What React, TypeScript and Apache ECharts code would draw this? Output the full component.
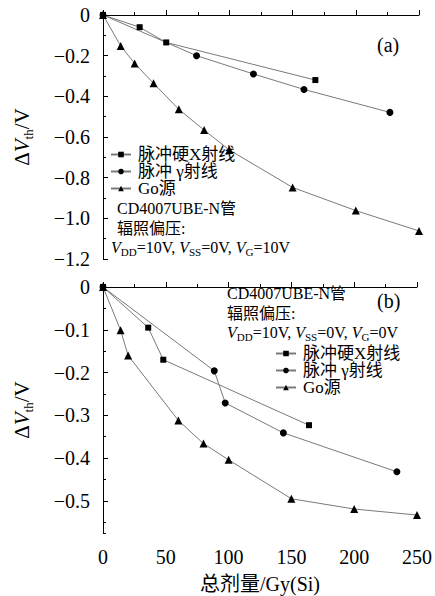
import React, { useEffect, useRef } from 'react';
import * as echarts from 'echarts';

const FONT = 'Liberation Serif, Noto Sans CJK SC, serif';

// ---- data (a): bias VG = 10V ----
const aXrayDose = [0, 29, 50, 168];
const aXrayDv = [0, -0.06, -0.135, -0.32];
const aGammaDose = [0, 74, 119, 159, 227];
const aGammaDv = [0, -0.2, -0.29, -0.366, -0.479];
const aCoDose = [0, 14, 25, 40, 60, 80, 100, 150, 200, 250];
const aCoDv = [0, -0.152, -0.238, -0.336, -0.464, -0.566, -0.664, -0.848, -0.962, -1.062];

// ---- data (b): bias VG = 0V ----
const bXrayDose = [0, 36, 48, 164];
const bXrayDv = [0, -0.095, -0.17, -0.323];
const bGammaDose = [0, 88.6, 97.3, 143.6, 234];
const bGammaDv = [0, -0.196, -0.271, -0.341, -0.432];
const bCoDose = [0, 14, 20, 60, 80, 100, 150, 200, 250];
const bCoDv = [0, -0.101, -0.16, -0.312, -0.366, -0.404, -0.495, -0.519, -0.533];

const seriesNames = ['脉冲硬X射线', '脉冲 γ射线', 'Go源'];
const doseRange = [0, 250];
const aDvRange = [-1.2, 0];
const bDvDepth = 0.575;

const LINE = '#7a7a7a';

function fmtNeg(v: number) {
  const r = Math.round(v * 10);
  if (Math.abs(v * 10 - r) > 1e-6) return '';
  if (r === 0) return '0';
  return '−' + Math.abs(r / 10).toFixed(1);
}

function mk(name: string, dose: number[], dv: number[], symbol: string, size: number, xi: number, yi: number, neg: boolean) {
  return {
    type: 'line',
    name,
    xAxisIndex: xi,
    yAxisIndex: yi,
    data: dose.map((d, i) => [d, neg ? -dv[i] : dv[i]]),
    symbol,
    symbolSize: size,
    showSymbol: true,
    lineStyle: { color: LINE, width: 1 },
    itemStyle: { color: '#000' },
    emphasis: { disabled: true },
  };
}

const yNameText = '{d|Δ}{v|V}{s|th}{d|/V}';
const yNameStyle = {
  fontFamily: FONT,
  fontSize: 21,
  color: '#000',
  rich: {
    d: { fontFamily: FONT, fontSize: 21, lineHeight: 26, color: '#000' },
    v: { fontFamily: FONT, fontSize: 21, lineHeight: 26, fontStyle: 'italic', color: '#000' },
    s: { fontFamily: FONT, fontSize: 13, lineHeight: 13, verticalAlign: 'bottom', color: '#000' },
  },
};

const annRich = {
  n: { fontFamily: FONT, fontSize: 16, lineHeight: 20, fill: '#000' },
  i: { fontFamily: FONT, fontSize: 16, lineHeight: 20, fontStyle: 'italic', fill: '#000' },
  s: { fontFamily: FONT, fontSize: 11, lineHeight: 11, verticalAlign: 'bottom', fill: '#000' },
};

function annText(x: number, y: number, text: string, rich = false) {
  return {
    type: 'text',
    x,
    y,
    style: rich
      ? { text, rich: annRich, font: `16px ${FONT}`, verticalAlign: 'middle', align: 'left', fill: '#000' }
      : { text, font: `16px ${FONT}`, verticalAlign: 'middle', align: 'left', fill: '#000' },
  };
}

const axisCommon = {
  axisLine: { lineStyle: { color: '#000', width: 1 } },
  splitLine: { show: false },
};

const labelStyle = { fontFamily: FONT, fontSize: 20, color: '#000', margin: 13 };

export default function App() {
  const ref = useRef<HTMLDivElement>(null);
  useEffect(() => {
    const chart = echarts.init(ref.current!, null, { renderer: 'svg' });
    const legendCommon = {
      orient: 'vertical', itemGap: 0, itemWidth: 20, itemHeight: 7, padding: 0,
      data: seriesNames, selectedMode: false,
      textStyle: { fontFamily: FONT, fontSize: 17, lineHeight: 17, color: '#000', padding: [0, 0, 0, 2] },
    };
    const option: any = {
      animation: false,
      backgroundColor: '#fff',
      textStyle: { fontFamily: FONT, color: '#000' },
      grid: [
        { left: 103, top: 15, width: 316, height: 244 },
        { left: 103, top: 287, width: 314, height: 246 },
      ],
      xAxis: [
        {
          ...axisCommon,
          type: 'value', gridIndex: 0, min: doseRange[0], max: doseRange[1], interval: 50,
          axisTick: { inside: true, length: 5, lineStyle: { color: '#000' } },
          minorTick: { show: true, splitNumber: 2, length: 3, lineStyle: { color: '#000' } },
          axisLabel: { show: false },
        },
        {
          ...axisCommon,
          type: 'value', gridIndex: 1, min: doseRange[0], max: doseRange[1], interval: 50,
          axisTick: { inside: true, length: 5, lineStyle: { color: '#000' } },
          minorTick: { show: true, splitNumber: 2, length: 3, lineStyle: { color: '#000' } },
          axisLabel: { ...labelStyle, margin: 14 },
          name: '总剂量/Gy(Si)', nameLocation: 'middle', nameGap: 41,
          nameTextStyle: { fontFamily: FONT, fontSize: 20, color: '#000' },
        },
      ],
      yAxis: [
        {
          ...axisCommon,
          type: 'value', gridIndex: 0, min: aDvRange[0], max: aDvRange[1], interval: 0.2,
          axisTick: { inside: true, length: 5, lineStyle: { color: '#000' } },
          minorTick: { show: true, splitNumber: 2, length: 3, lineStyle: { color: '#000' } },
          axisLabel: { ...labelStyle, formatter: fmtNeg },
          name: yNameText, nameLocation: 'middle', nameGap: 68,
          nameTextStyle: yNameStyle,
        },
        {
          ...axisCommon,
          type: 'value', gridIndex: 1, inverse: true, min: 0, max: bDvDepth, interval: 0.05,
          axisTick: { inside: true, length: 3, lineStyle: { color: '#000' } },
          axisLabel: { show: false },
        },
        {
          type: 'value', gridIndex: 1, position: 'left', inverse: true, min: 0, max: bDvDepth, interval: 0.1,
          axisLine: { show: false },
          splitLine: { show: false },
          axisTick: { inside: true, length: 5, lineStyle: { color: '#000' } },
          axisLabel: { ...labelStyle, showMaxLabel: false, formatter: (v: number) => fmtNeg(-v) },
          name: yNameText, nameLocation: 'middle', nameGap: 68,
          nameTextStyle: yNameStyle,
        },
      ],
      legend: [
        { ...legendCommon, left: 110, top: 146 },
        { ...legendCommon, left: 275, top: 345 },
      ],
      graphic: [
        { type: 'text', x: 377, y: 45, style: { text: '(a)', font: `20px ${FONT}`, verticalAlign: 'middle', fill: '#000' } },
        { type: 'text', x: 377, y: 301, style: { text: '(b)', font: `20px ${FONT}`, verticalAlign: 'middle', fill: '#000' } },
        annText(117, 208, 'CD4007UBE-N管'),
        annText(117, 228, '辐照偏压:'),
        annText(111, 247, '{i|V}{s|DD}{n|=10V, }{i|V}{s|SS}{n|=0V, }{i|V}{s|G}{n|=10V}', true),
        annText(227, 293, 'CD4007UBE-N管'),
        annText(227, 313, '辐照偏压:'),
        annText(227, 332, '{i|V}{s|DD}{n|=10V, }{i|V}{s|SS}{n|=0V, }{i|V}{s|G}{n|=0V}', true),
      ],
      series: [
        mk(seriesNames[0], aXrayDose, aXrayDv, 'rect', 6, 0, 0, false),
        mk(seriesNames[1], aGammaDose, aGammaDv, 'circle', 7, 0, 0, false),
        mk(seriesNames[2], aCoDose, aCoDv, 'triangle', 8, 0, 0, false),
        mk(seriesNames[0], bXrayDose, bXrayDv, 'rect', 6, 1, 1, true),
        mk(seriesNames[1], bGammaDose, bGammaDv, 'circle', 7, 1, 1, true),
        mk(seriesNames[2], bCoDose, bCoDv, 'triangle', 8, 1, 1, true),
      ],
    };
    chart.setOption(option);
    return () => chart.dispose();
  }, []);
  return (
    <div
      ref={ref}
      style={{ position: 'fixed', left: 0, top: 0, width: 435, height: 596, background: '#fff' }}
    />
  );
}
